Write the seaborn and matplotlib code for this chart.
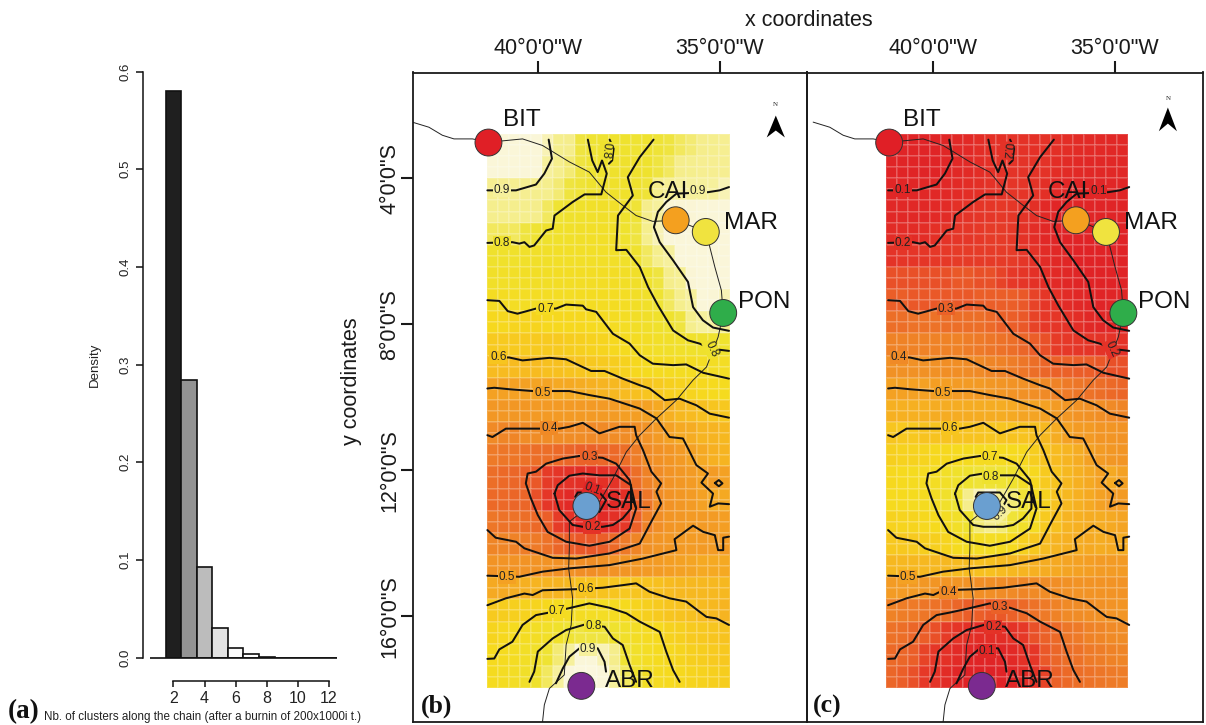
import numpy as np
import pandas as pd
import matplotlib
matplotlib.use("Agg")
import matplotlib.pyplot as plt
from matplotlib.colors import LinearSegmentedColormap
import seaborn as sns

# ===============================
# Data
# ===============================
clusters = [2, 3, 4, 5, 6, 7, 8, 9, 10, 11, 12]
density = [0.58, 0.284, 0.093, 0.030, 0.0102, 0.0038, 0.0004, 0.0002, 0.0001, 0.0001, 0.0001]
bar_greys = ["#1f1f1f", "#939393", "#bcbcbc", "#e3e3e3", "#fbfbfb", "#ffffff",
             "#ffffff", "#ffffff", "#ffffff", "#ffffff", "#ffffff"]

# posterior probability, in %, one row per 2 map cells, north to south
prob_b = [
    [93, 93, 93, 93, 93, 91, 87, 86, 83, 81, 81, 80, 80, 81, 80, 82, 83, 84, 85, 86, 87, 88],
    [93, 93, 93, 93, 93, 90, 87, 85, 83, 81, 80, 79, 79, 79, 80, 83, 84, 86, 87, 88, 88, 88],
    [88, 88, 88, 88, 87, 87, 85, 83, 82, 80, 79, 78, 78, 79, 82, 86, 89, 90, 90, 90, 90, 91],
    [87, 87, 87, 87, 86, 84, 81, 79, 78, 77, 76, 77, 79, 82, 86, 90, 92, 92, 92, 93, 93, 93],
    [84, 84, 84, 83, 81, 79, 78, 77, 76, 75, 75, 76, 80, 83, 87, 91, 94, 94, 94, 94, 94, 94],
    [79, 78, 78, 77, 76, 76, 75, 75, 75, 75, 75, 75, 77, 80, 84, 87, 90, 94, 94, 94, 94, 94],
    [76, 75, 75, 74, 74, 74, 73, 73, 73, 73, 73, 73, 74, 76, 80, 83, 86, 89, 92, 94, 94, 94],
    [71, 71, 72, 72, 72, 72, 72, 72, 71, 71, 71, 71, 72, 74, 77, 81, 84, 87, 90, 93, 92, 91],
    [67, 67, 66, 66, 66, 67, 67, 67, 67, 68, 70, 71, 72, 74, 76, 78, 80, 83, 87, 90, 90, 89],
    [62, 62, 62, 62, 62, 62, 62, 63, 64, 65, 66, 67, 69, 71, 73, 75, 76, 77, 78, 79, 80, 80],
    [57, 57, 57, 57, 57, 58, 58, 59, 60, 61, 62, 63, 65, 67, 69, 70, 70, 71, 71, 72, 73, 73],
    [50, 50, 50, 50, 51, 51, 52, 52, 53, 54, 55, 56, 57, 58, 60, 62, 64, 65, 66, 67, 68, 69],
    [46, 46, 46, 46, 47, 47, 47, 47, 47, 47, 47, 48, 49, 49, 50, 52, 54, 56, 57, 58, 60, 61],
    [40, 39, 39, 41, 41, 41, 41, 41, 41, 40, 40, 41, 41, 42, 44, 47, 50, 52, 53, 55, 55, 56],
    [36, 35, 35, 34, 33, 33, 32, 31, 30, 30, 31, 32, 33, 37, 41, 43, 45, 47, 50, 52, 54, 55],
    [33, 32, 31, 30, 28, 25, 22, 20, 18, 18, 19, 21, 27, 33, 38, 41, 44, 46, 48, 50, 48, 50],
    [32, 32, 31, 31, 27, 23, 19, 14, 9, 8, 11, 15, 18, 29, 35, 41, 44, 46, 48, 50, 52, 52],
    [35, 34, 34, 33, 32, 29, 25, 20, 15, 14, 15, 18, 24, 30, 38, 42, 45, 46, 47, 47, 48, 49],
    [39, 39, 38, 37, 36, 34, 31, 29, 28, 28, 29, 32, 36, 39, 43, 45, 46, 47, 48, 47, 48, 47],
    [44, 44, 44, 44, 44, 44, 43, 43, 42, 42, 43, 44, 45, 46, 47, 48, 49, 50, 51, 52, 52, 52],
    [52, 52, 53, 54, 55, 55, 55, 56, 58, 58, 59, 60, 61, 60, 59, 58, 57, 56, 56, 56, 56, 56],
    [62, 63, 64, 65, 66, 67, 69, 71, 71, 72, 72, 70, 68, 66, 64, 62, 60, 59, 58, 57, 56, 55],
    [66, 67, 69, 71, 73, 75, 78, 81, 83, 83, 83, 80, 76, 73, 70, 68, 65, 64, 62, 61, 60, 59],
    [68, 69, 71, 74, 77, 81, 85, 90, 93, 93, 91, 86, 81, 77, 72, 69, 67, 66, 64, 63, 62, 61],
    [69, 71, 73, 76, 79, 84, 90, 95, 96, 96, 94, 90, 84, 80, 74, 70, 68, 67, 66, 65, 64, 63],
]
prob_c = [
    [7, 7, 7, 7, 7, 9, 13, 14, 17, 19, 19, 20, 20, 19, 20, 18, 17, 16, 15, 14, 13, 12],
    [7, 7, 7, 7, 7, 10, 13, 15, 17, 19, 20, 21, 21, 21, 20, 17, 16, 14, 13, 12, 12, 12],
    [10, 10, 10, 12, 13, 13, 15, 17, 18, 20, 21, 22, 22, 21, 18, 14, 11, 10, 10, 10, 10, 9],
    [13, 13, 13, 13, 14, 16, 19, 21, 22, 23, 24, 23, 21, 18, 14, 10, 8, 8, 8, 7, 7, 7],
    [16, 16, 16, 17, 19, 21, 22, 23, 24, 25, 25, 24, 20, 17, 13, 9, 6, 6, 6, 6, 6, 6],
    [21, 22, 22, 23, 24, 24, 25, 25, 25, 25, 25, 25, 23, 20, 16, 13, 10, 6, 6, 6, 6, 6],
    [27, 27, 27, 27, 27, 27, 28, 28, 27, 27, 26, 24, 22, 19, 17, 14, 11, 8, 6, 6, 6, 6],
    [29, 29, 28, 28, 28, 28, 28, 28, 29, 29, 29, 29, 28, 26, 23, 19, 16, 13, 10, 7, 8, 9],
    [33, 33, 34, 34, 34, 33, 33, 33, 33, 32, 30, 29, 28, 26, 24, 22, 20, 17, 13, 10, 10, 11],
    [38, 38, 38, 38, 38, 38, 38, 37, 36, 35, 34, 33, 31, 29, 27, 25, 24, 23, 22, 21, 20, 20],
    [43, 43, 43, 43, 43, 42, 42, 41, 40, 39, 38, 37, 35, 33, 31, 30, 30, 29, 29, 28, 27, 27],
    [50, 50, 50, 50, 49, 49, 48, 48, 47, 46, 45, 44, 43, 42, 40, 38, 36, 35, 34, 33, 32, 31],
    [54, 54, 54, 54, 53, 53, 53, 53, 53, 53, 53, 52, 51, 51, 50, 48, 46, 44, 43, 42, 40, 39],
    [60, 61, 61, 59, 59, 59, 59, 59, 59, 60, 60, 59, 59, 58, 56, 53, 50, 48, 47, 45, 45, 44],
    [64, 65, 65, 66, 67, 67, 68, 69, 70, 70, 69, 68, 67, 63, 59, 57, 55, 53, 50, 48, 46, 45],
    [67, 68, 69, 70, 72, 75, 78, 80, 82, 82, 81, 79, 73, 67, 62, 59, 56, 54, 52, 50, 52, 50],
    [68, 68, 69, 69, 73, 77, 81, 86, 91, 92, 89, 85, 82, 71, 65, 59, 56, 54, 52, 50, 48, 48],
    [65, 66, 66, 67, 68, 71, 75, 80, 85, 86, 85, 82, 76, 70, 62, 58, 55, 54, 53, 53, 52, 51],
    [61, 61, 62, 63, 64, 66, 69, 71, 72, 72, 71, 68, 64, 61, 57, 55, 54, 53, 52, 53, 52, 53],
    [56, 56, 56, 56, 56, 56, 57, 57, 58, 58, 57, 56, 55, 54, 53, 52, 51, 50, 49, 48, 48, 48],
    [48, 48, 47, 46, 45, 45, 45, 44, 42, 42, 41, 40, 39, 40, 41, 42, 43, 44, 44, 44, 44, 44],
    [38, 37, 36, 35, 34, 33, 31, 29, 29, 28, 28, 30, 32, 34, 36, 38, 40, 41, 42, 43, 44, 45],
    [34, 33, 31, 29, 27, 25, 22, 19, 17, 17, 17, 20, 24, 27, 30, 32, 35, 36, 38, 39, 40, 41],
    [32, 31, 29, 26, 23, 19, 15, 10, 7, 7, 9, 14, 19, 23, 28, 31, 33, 34, 36, 37, 38, 39],
    [31, 29, 27, 24, 21, 16, 10, 5, 4, 4, 6, 10, 16, 20, 26, 30, 32, 33, 34, 35, 36, 37],
]

stations = ["BIT", "CAI", "MAR", "PON", "SAL", "ABR"]
station_lon = [-41.37, -36.21, -35.38, -34.90, -38.67, -38.81]
station_lat = [-3.02, -5.15, -5.47, -7.69, -12.98, -17.91]
station_col = ["#e01f26", "#f4a01f", "#f0e33f", "#2fad4a", "#6a9fd0", "#7b2a90"]

river = [(-43.47, -2.46), (-43.01, -2.60), (-42.64, -2.82), (-42.32, -2.92), (-41.81, -2.92),
         (-41.35, -3.01), (-40.43, -2.92), (-39.88, -3.10), (-39.14, -3.55), (-38.59, -3.83),
         (-38.13, -4.38), (-37.67, -4.74), (-37.30, -5.02), (-36.84, -5.18), (-36.19, -5.15),
         (-35.36, -5.47), (-35.27, -5.88), (-35.13, -6.43), (-34.95, -7.07), (-34.90, -7.71),
         (-35.04, -8.35), (-35.36, -9.17), (-35.73, -9.53), (-36.19, -10.08), (-36.74, -10.58),
         (-37.20, -11.04), (-37.57, -11.50), (-37.94, -12.23), (-38.31, -12.87), (-38.68, -13.05),
         (-39.14, -13.41), (-39.14, -14.14), (-39.16, -14.69), (-39.05, -15.51), (-39.09, -16.24),
         (-39.23, -16.79), (-39.28, -17.61), (-39.69, -17.98), (-39.83, -18.43), (-39.88, -18.90)]

c09_left = [(-41.40, -4.33), (-40.61, -4.33), (-40.06, -4.17), (-39.83, -3.87), (-39.62, -3.46), (-39.71, -2.94)]
c09_right = [(-34.74, -4.24), (-35.00, -4.33), (-35.32, -4.38), (-36.19, -4.42), (-36.47, -4.65), (-36.70, -4.92),
             (-36.81, -5.34), (-36.65, -5.75), (-36.28, -6.25), (-35.87, -6.84), (-35.73, -7.53), (-35.46, -7.89),
             (-35.18, -8.09), (-34.74, -8.18)]
c08_left = [(-41.40, -5.77), (-40.71, -5.75), (-40.52, -5.79), (-40.38, -5.75), (-40.24, -5.88), (-40.11, -5.84),
            (-39.78, -5.43), (-39.60, -5.38), (-39.55, -5.02), (-39.05, -4.65), (-38.72, -4.44), (-38.26, -4.44),
            (-38.11, -3.87), (-38.24, -3.51), (-38.36, -3.83), (-38.51, -3.51), (-38.63, -2.94)]
c08_hook = [(-38.03, -2.94), (-37.92, -3.19), (-37.96, -3.51), (-38.05, -3.60)]
c08_right = [(-36.82, -2.94), (-37.20, -3.42), (-37.53, -3.97), (-37.39, -4.47), (-37.80, -5.02), (-37.85, -5.97),
             (-37.57, -5.96), (-37.20, -6.43), (-36.97, -6.98), (-36.70, -7.48), (-36.28, -8.17), (-35.87, -8.44),
             (-35.55, -8.53), (-35.23, -8.67), (-34.74, -8.73)]
c07 = [(-41.40, -7.34), (-41.07, -7.36), (-40.84, -7.64), (-40.57, -7.71), (-40.06, -7.57), (-39.51, -7.57),
       (-39.23, -7.46), (-38.77, -7.49), (-38.68, -7.59), (-38.40, -7.66), (-37.94, -8.26), (-37.48, -8.53),
       (-37.20, -8.85), (-36.84, -9.08), (-36.28, -9.12), (-35.92, -9.10), (-35.45, -9.33), (-34.74, -9.49)]
c06 = [(-41.30, -8.91), (-40.80, -8.91), (-40.43, -8.99), (-39.69, -8.92), (-39.23, -8.96), (-38.54, -9.28),
       (-38.17, -9.28), (-37.67, -9.49), (-37.20, -9.67), (-36.93, -9.76), (-36.51, -10.08), (-36.10, -10.04),
       (-35.64, -10.22), (-35.27, -10.45), (-34.74, -10.56)]
c05 = [(-41.40, -9.76), (-41.21, -9.74), (-40.80, -9.78), (-40.15, -9.83), (-39.60, -9.83), (-39.14, -9.83),
       (-38.59, -9.94), (-38.03, -10.04), (-37.20, -10.31), (-36.74, -10.58), (-36.38, -11.09), (-36.01, -11.13),
       (-35.82, -11.50), (-35.64, -11.86), (-35.32, -12.09), (-35.50, -12.34), (-35.18, -12.64), (-35.27, -13.00),
       (-35.04, -12.91), (-34.74, -12.93)]
c05_islet = [(-35.13, -12.35), (-35.02, -12.27), (-34.92, -12.36), (-35.02, -12.44), (-35.13, -12.35)]
c04 = [(-41.40, -11.04), (-41.26, -11.09), (-40.89, -10.86), (-39.97, -10.86), (-39.42, -10.86), (-39.14, -10.81),
       (-38.77, -10.70), (-38.31, -10.99), (-37.76, -10.81), (-37.34, -10.81), (-37.30, -11.04), (-37.11, -11.45),
       (-36.88, -12.04), (-36.61, -12.36), (-36.74, -12.59), (-36.61, -12.91), (-36.93, -13.50), (-37.20, -14.01),
       (-38.03, -14.28), (-38.95, -14.42), (-39.60, -14.40), (-40.38, -14.14), (-40.61, -13.96), (-41.17, -13.85),
       (-41.40, -13.64)]
c03 = [(-38.86, -11.61), (-39.32, -11.68), (-39.78, -11.82), (-40.06, -12.04), (-40.29, -12.09), (-40.34, -12.36),
       (-40.20, -12.77), (-40.01, -13.23), (-39.74, -13.69), (-39.23, -13.96), (-38.59, -14.07), (-38.03, -13.96),
       (-37.48, -13.60), (-37.30, -13.05), (-37.48, -12.27), (-37.85, -11.82), (-38.22, -11.66), (-38.86, -11.61)]
c02 = [(-39.55, -12.64), (-39.46, -12.41), (-39.14, -12.15), (-38.77, -12.09), (-38.31, -12.14), (-37.85, -12.14),
       (-37.44, -12.41), (-37.44, -13.05), (-37.67, -13.32), (-37.94, -13.50), (-38.22, -13.55), (-38.77, -13.55),
       (-39.05, -13.50), (-39.42, -13.09), (-39.55, -12.64)]
c01 = [(-38.98, -12.73), (-38.91, -12.61), (-38.31, -12.61), (-38.13, -12.82), (-38.31, -13.14), (-38.95, -13.19)]
c05_south = [(-41.40, -14.89), (-40.52, -14.92), (-39.88, -14.78), (-39.14, -14.69), (-38.03, -14.60), (-37.11, -14.42),
             (-36.19, -14.19), (-36.24, -13.89), (-35.73, -13.52), (-35.45, -13.69), (-35.13, -13.78), (-35.04, -14.19),
             (-34.90, -14.19), (-34.90, -13.85), (-34.74, -13.82)]
c06_south = [(-41.40, -15.70), (-40.89, -15.51), (-40.38, -15.38), (-40.15, -15.42), (-39.88, -15.29), (-38.95, -15.26),
             (-38.22, -15.22), (-37.67, -15.15), (-37.30, -15.10), (-36.93, -15.33), (-36.38, -15.51), (-35.92, -15.60),
             (-35.55, -15.88), (-35.36, -16.02), (-35.09, -16.06), (-34.74, -16.24)]
c07_south = [(-41.40, -17.17), (-41.21, -17.16), (-41.07, -16.91), (-40.71, -16.70), (-40.43, -16.24), (-40.06, -15.97),
             (-39.69, -15.90), (-39.23, -15.80), (-38.59, -15.65), (-38.03, -15.77), (-37.57, -15.92), (-37.20, -16.15),
             (-36.65, -16.43), (-36.47, -16.97), (-36.28, -17.48), (-36.10, -17.80)]
c08_south = [(-40.24, -17.80), (-40.11, -17.52), (-40.01, -16.97), (-39.60, -16.61), (-39.23, -16.38), (-38.72, -16.23),
             (-38.17, -16.29), (-37.94, -16.61), (-37.67, -16.79), (-37.48, -17.34), (-37.30, -17.80)]
c09_south = [(-39.51, -17.84), (-39.32, -17.43), (-39.14, -17.11), (-38.86, -16.88), (-38.36, -16.88), (-38.17, -17.25),
             (-38.13, -17.52)]
contours = [c09_left, c09_right, c08_left, c08_hook, c08_right, c07, c06, c05, c05_islet, c04, c03, c02, c01,
            c05_south, c06_south, c07_south, c08_south, c09_south]

# contour labels: value, lon, lat, rotation
labels_b = [(0.9, -41.00, -4.33, 0), (0.9, -35.59, -4.36, 0), (0.8, -41.00, -5.77, 0), (0.8, -38.13, -3.24, 265),
            (0.8, -35.23, -8.67, 295), (0.7, -39.80, -7.57, 0), (0.6, -41.10, -8.91, 0), (0.5, -39.88, -9.87, 0),
            (0.4, -39.69, -10.84, 0), (0.3, -38.59, -11.63, 0), (0.2, -38.51, -13.55, 0), (0.1, -38.51, -12.52, 340),
            (0.5, -40.86, -14.92, 0), (0.6, -38.68, -15.26, 0), (0.7, -39.49, -15.86, 0), (0.8, -38.48, -16.26, 0),
            (0.9, -38.63, -16.91, 0)]
labels_c = [(0.1, -41.00, -4.33, 0), (0.1, -35.59, -4.36, 0), (0.2, -41.00, -5.77, 0), (0.2, -38.13, -3.24, 265),
            (0.2, -35.23, -8.67, 295), (0.3, -39.80, -7.57, 0), (0.4, -41.10, -8.91, 0), (0.5, -39.88, -9.87, 0),
            (0.6, -39.69, -10.84, 0), (0.7, -38.59, -11.63, 0), (0.8, -38.56, -12.18, 0), (0.9, -38.31, -13.18, 45),
            (0.5, -40.86, -14.92, 0), (0.4, -39.73, -15.35, 0), (0.3, -38.31, -15.74, 0), (0.2, -38.49, -16.29, 0),
            (0.1, -38.67, -16.95, 0)]

heat = LinearSegmentedColormap.from_list("heat_like", [
    (0.00, "#de1f26"), (0.15, "#e22a26"), (0.25, "#e63a27"), (0.28, "#ea5a28"), (0.40, "#f08a26"),
    (0.50, "#f4a023"), (0.58, "#f7c01f"), (0.68, "#f6da1e"), (0.80, "#efe22e"), (0.83, "#efe43c"),
    (0.86, "#f5ed8a"), (0.90, "#f6ef96"), (0.92, "#faf5d5"), (1.00, "#fbf8e4")])

# ===============================
# Figure
# ===============================
sns.set_theme(style="white")
plt.rcParams["font.family"] = ["Liberation Sans", "DejaVu Sans"]
W, H = 1206, 725
fig = plt.figure(figsize=(W / 100, H / 100), dpi=100, facecolor="white")


def px_axes(left, top, right, bottom, **kw):
    return fig.add_axes([left / W, 1 - bottom / H, (right - left) / W, (bottom - top) / H], **kw)


# ===============================
# (a) histogram
# ===============================
ax_h = px_axes(143, 71.5, 337, 657.7)
df = pd.DataFrame({"k": clusters, "density": density})
sns.barplot(data=df, x="k", y="density", hue="k", palette=bar_greys, legend=False, native_scale=True,
            width=1, edgecolor="#111111", linewidth=1.2, saturation=1, ax=ax_h)
ax_h.set_xlim(0.04, 12.52)
ax_h.set_ylim(0, 0.6)
ax_h.hlines(0, 0.47, 12.52, color="#111111", lw=1.2, clip_on=False)
sns.despine(ax=ax_h, right=True, top=True)
ax_h.spines["left"].set_bounds(0, 0.6)
ax_h.spines["left"].set_color("#111111")
ax_h.spines["left"].set_linewidth(1.1)
ax_h.spines["bottom"].set_position(("outward", 16.5))
ax_h.spines["bottom"].set_bounds(2, 12)
ax_h.spines["bottom"].set_color("#111111")
ax_h.spines["bottom"].set_linewidth(1.1)
ax_h.set_xticks([2, 4, 6, 8, 10, 12])
ax_h.set_yticks([0, 0.1, 0.2, 0.3, 0.4, 0.5, 0.6])
ax_h.set_yticklabels(["0.0", "0.1", "0.2", "0.3", "0.4", "0.5", "0.6"], rotation=90, va="center")
ax_h.tick_params(axis="x", bottom=True, length=4.5, width=1.1, color="#111111", labelsize=11.5, pad=3, labelcolor="#222222")
ax_h.tick_params(axis="y", left=True, length=5, width=1.1, color="#111111", labelsize=9.5, pad=3, labelcolor="#222222")
ax_h.set_xlabel("")
ax_h.set_ylabel("")
fig.text(95 / W, 1 - 365 / H, "Density", rotation=90, ha="center", va="center", fontsize=9.5, color="#222222")
fig.text(8 / W, 1 - 718 / H, "(a)", family="Liberation Serif", weight="bold", fontsize=19.5, color="#111111",
         ha="left", va="baseline")
fig.text(44 / W, 1 - 717 / H, "Nb. of clusters along the chain (after a burnin of 200x1000i t.)",
         fontsize=8.4, color="#222222", ha="left", va="center")


# ===============================
# (b) and (c) maps
# ===============================
def draw_map(frame, grid_box, prob, labels, xlim, xticks, north, tag, tag_px, ylabels):
    ax_g = px_axes(*grid_box)
    cells = np.repeat(np.array(prob) / 100, 2, axis=0)
    sns.heatmap(cells, ax=ax_g, cmap=heat, vmin=0, vmax=1, cbar=False, linewidths=0.2,
                linecolor=(1, 1, 1, 0.15), xticklabels=False, yticklabels=False)

    ax = px_axes(*frame, facecolor="none")
    ax.set_xlim(*xlim)
    ax.set_ylim(-18.90, -1.10)
    for sp in ax.spines.values():
        sp.set_visible(True)
        sp.set_color("#1a1a1a")
        sp.set_linewidth(1.3)

    ax.plot(*zip(*river), color="#222222", lw=0.7, zorder=2)
    for line in contours:
        ax.plot(*zip(*line), color="#111111", lw=1.45, zorder=3, solid_joinstyle="round")
    for val, lon, lat, rot in labels:
        ax.text(lon, lat, f"{val:.1f}", fontsize=8.5, color="#222222", rotation=rot, ha="center", va="center",
                zorder=4, bbox=dict(fc=heat(val), ec="none", pad=0.6))

    sns.scatterplot(x=station_lon, y=station_lat, hue=stations, palette=station_col, legend=False, s=375,
                    edgecolor="#333333", linewidth=0.7, zorder=5, ax=ax)
    offsets = [(33, -23), (-8, -28), (45, -9), (41, -11), (42, -4), (48, -5)]
    for name, lon, lat, off in zip(stations, station_lon, station_lat, offsets):
        ax.annotate(name, (lon, lat), xytext=(off[0] * 0.72, -off[1] * 0.72), textcoords="offset points",
                    ha="center", va="center", fontsize=17.5, color="#111111", zorder=6)

    # north arrow
    nlon, ntip, nbase, nnotch, ntext = north
    ax.fill([nlon, nlon + 0.25, nlon, nlon - 0.25], [ntip, nbase, nnotch, nbase], color="black", lw=0, zorder=5)
    ax.text(nlon, ntext, "N", family="Liberation Serif", fontsize=5, ha="center", va="center", color="#222222")

    ax.xaxis.tick_top()
    ax.set_xticks(xticks)
    ax.set_xticklabels(['40°0\'0"W', '35°0\'0"W'])
    ax.tick_params(axis="x", top=True, bottom=False, length=8.5, width=1.5, color="#1a1a1a", labelsize=15.5,
                   pad=1, labelcolor="#1a1a1a")
    if ylabels:
        ax.set_yticks([-4, -8, -12, -16])
        ax.set_yticklabels(['4°0\'0"S', '8°0\'0"S', '12°0\'0"S', '16°0\'0"S'], rotation=90, va="center")
        ax.tick_params(axis="y", left=True, length=9, width=1.5, color="#1a1a1a", labelsize=15.5, pad=0,
                       labelcolor="#1a1a1a")
    else:
        ax.set_yticks([])
    ax.set_xlabel("")
    ax.set_ylabel("")
    fig.text(tag_px / W, 1 - 713 / H, tag, family="Liberation Serif", weight="bold", fontsize=18.5, color="#111111",
             ha="left", va="baseline")


draw_map((413, 72.5, 807, 722), (487, 134, 730, 688), prob_b, labels_b, (-43.45, -32.59), [-40, -35],
         (-33.45, -2.28, -2.88, -2.69, -1.98), "(b)", 421, True)
draw_map((807, 72.5, 1203, 722), (886, 134, 1128, 688), prob_c, labels_c, (-43.64, -32.70), [-40.16, -35.13],
         (-33.67, -2.06, -2.71, -2.50, -1.81), "(c)", 813, False)

fig.text(809 / W, 1 - 20 / H, "x coordinates", fontsize=15.5, ha="center", va="center", color="#1a1a1a")
fig.text(352 / W, 1 - 381 / H, "y coordinates", fontsize=15.5, rotation=90, ha="center", va="center", color="#1a1a1a")

fig.savefig("out.png", dpi=100)
